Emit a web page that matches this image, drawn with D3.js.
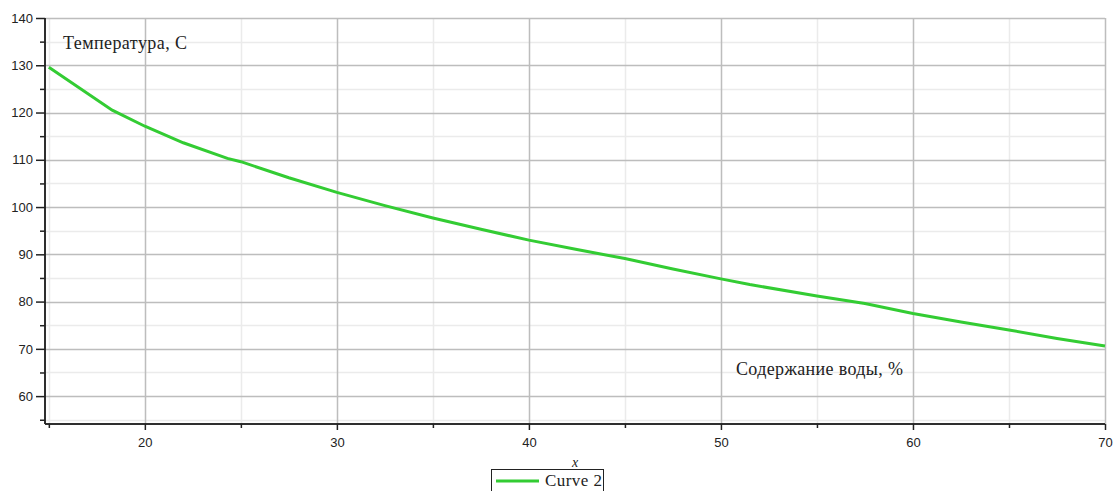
<!DOCTYPE html>
<html>
<head>
<meta charset="utf-8">
<script src="https://cdn.jsdelivr.net/npm/d3@7"></script>
<style>
body { margin:0; background:#fff; }
text { fill:#222; }
</style>
</head>
<body>
<svg id="chart" width="1113" height="491"></svg>
<script>
// data
var waterPct = [15, 18.3, 20, 22, 24.3, 25, 27.5, 30, 32.5, 35, 37.5, 40, 42.5, 45, 47.5, 50, 51.5, 55, 57.5, 60, 62.5, 65, 67.5, 70];
var tempC    = [129.6, 120.5, 117.1, 113.6, 110.3, 109.6, 106.2, 103.1, 100.3, 97.7, 95.3, 93.0, 91.0, 89.1, 86.9, 84.8, 83.6, 81.2, 79.6, 77.5, 75.7, 74.0, 72.2, 70.6];
var xMajor = [20, 30, 40, 50, 60, 70];
var xMinor = [15, 25, 35, 45, 55, 65];
var yMajor = [60, 70, 80, 90, 100, 110, 120, 130, 140];
var yMinor = [55, 65, 75, 85, 95, 105, 115, 125, 135];

var svg = d3.select("#chart");
var pLeft = 45, pRight = 1105, pTop = 18, pBottom = 424;

var x = d3.scaleLinear().domain([14.8, 70]).range([pLeft, pRight]);
var y = d3.scaleLinear().domain([54.1, 140]).range([pBottom, pTop]);

//grid
var grid = svg.append("g");
grid.selectAll(".vmin").data(xMinor).enter().append("line")
    .attr("x1", d => Math.round(x(d)) + 0.5).attr("x2", d => Math.round(x(d)) + 0.5)
    .attr("y1", pTop).attr("y2", pBottom)
    .attr("stroke", "#ebebeb").attr("stroke-width", 1.5);
grid.selectAll(".hmin").data(yMinor).enter().append("line")
    .attr("y1", d => Math.round(y(d)) + 0.5).attr("y2", d => Math.round(y(d)) + 0.5)
    .attr("x1", pLeft).attr("x2", pRight)
    .attr("stroke", "#ebebeb").attr("stroke-width", 1.5);
grid.selectAll(".vmaj").data(xMajor).enter().append("line")
    .attr("x1", d => Math.round(x(d)) + 0.5).attr("x2", d => Math.round(x(d)) + 0.5)
    .attr("y1", pTop).attr("y2", pBottom)
    .attr("stroke", "#bdbdbd").attr("stroke-width", 1.5);
grid.selectAll(".hmaj").data(yMajor).enter().append("line")
    .attr("y1", d => Math.round(y(d)) + 0.5).attr("y2", d => Math.round(y(d)) + 0.5)
    .attr("x1", pLeft).attr("x2", pRight)
    .attr("stroke", "#bdbdbd").attr("stroke-width", 1.5);

//curve
var pts = waterPct.map((d, i) => [d, tempC[i]]);
svg.append("path")
    .datum(pts)
    .attr("fill", "none")
    .attr("stroke", "#33cc33")
    .attr("stroke-width", 3)
    .attr("d", d3.line().x(d => x(d[0])).y(d => y(d[1])));

//axes
svg.append("g").attr("class", "xax").attr("transform", "translate(0," + pBottom + ")")
    .call(d3.axisBottom(x).tickValues(xMajor).tickSize(6).tickPadding(8).tickFormat(d3.format("d")));
svg.append("g").attr("class", "xax").attr("transform", "translate(0," + pBottom + ")")
    .call(d3.axisBottom(x).tickValues(xMinor).tickSize(4).tickFormat(""));
svg.append("g").attr("class", "yax").attr("transform", "translate(" + pLeft + ",0)")
    .call(d3.axisLeft(y).tickValues(yMajor).tickSize(9).tickPadding(3).tickFormat(d3.format("d")));
svg.append("g").attr("class", "yax").attr("transform", "translate(" + pLeft + ",0)")
    .call(d3.axisLeft(y).tickValues(yMinor).tickSize(5).tickFormat(""));

svg.selectAll(".domain").attr("stroke", "#222").attr("stroke-width", 1.5);
svg.selectAll(".xax .domain").attr("d", "M" + pLeft + ",0H" + pRight);
svg.selectAll(".yax .domain").attr("d", "M0," + pTop + "V" + pBottom);
svg.selectAll(".tick line").attr("stroke", "#222").attr("stroke-width", 1.5);
svg.selectAll(".tick text")
    .attr("font-family", "Liberation Sans, Arial, sans-serif")
    .attr("font-size", 13)
    .attr("fill", "#222");

//annotations
svg.append("text")
    .attr("x", 63).attr("y", 49)
    .attr("font-family", "Liberation Serif, Times New Roman, serif")
    .attr("font-size", 18)
    .attr("textLength", 124)
    .text("Температура, С");
svg.append("text")
    .attr("x", 736).attr("y", 375)
    .attr("font-family", "Liberation Serif, Times New Roman, serif")
    .attr("font-size", 18)
    .attr("textLength", 167)
    .text("Содержание воды, %");
svg.append("text")
    .attr("x", (pLeft + pRight) / 2).attr("y", 467)
    .attr("text-anchor", "middle")
    .attr("font-family", "Liberation Serif, Times New Roman, serif")
    .attr("font-style", "italic")
    .attr("font-size", 14)
    .text("x");

//legend
var legend = svg.append("g");
legend.append("rect")
    .attr("x", 491.5).attr("y", 469.5).attr("width", 112).attr("height", 30)
    .attr("fill", "#fff").attr("stroke", "#222").attr("stroke-width", 1);
legend.append("line")
    .attr("x1", 496).attr("x2", 539).attr("y1", 481).attr("y2", 481)
    .attr("stroke", "#33cc33").attr("stroke-width", 3);
legend.append("text")
    .attr("x", 545).attr("y", 486)
    .attr("font-family", "Liberation Serif, Times New Roman, serif")
    .attr("font-size", 17)
    .attr("textLength", 57)
    .text("Curve 2");
</script>
</body>
</html>
